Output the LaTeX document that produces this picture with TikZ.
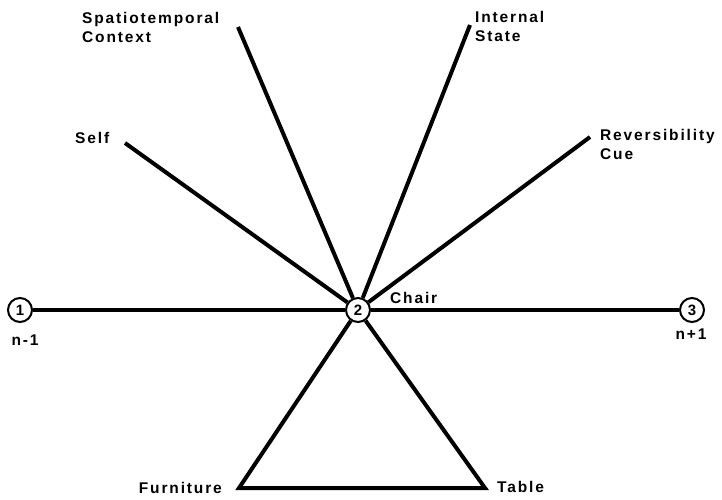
\documentclass[tikz,border=0pt]{standalone}
\usepackage{fontspec}
\setmainfont{Liberation Sans}[LetterSpace=12]
\usepackage{tikz}
\usetikzlibrary{arrows, arrows.meta}
\tikzset{vertex/.style = {shape = circle, draw, line width = 2pt, minimum size = 24pt, inner sep = 0pt, font = \fontsize{15}{15}\selectfont\bfseries}}
\tikzset{edge/.style = {-, line width = 4pt}}
\tikzset{tag/.style = {inner sep = 0pt, align = left, font = \fontsize{15.5}{19}\selectfont\bfseries}}

\begin{document}
\begin{tikzpicture}[x = 1pt, y = -1pt]
				\useasboundingbox (0, 0) rectangle (722, 499);

				\node[vertex] (a) at (20, 310) {1};
				\node[vertex] (b) at (358, 310) {2};
				\node[vertex] (c) at (692, 310) {3};

				\coordinate (self) at (125, 143);
				\coordinate (spat) at (238, 27);
				\coordinate (inst) at (470, 25);
				\coordinate (rcue) at (590, 137);
				\coordinate (furn) at (239, 488);
				\coordinate (tabl) at (485, 488);

				\draw[edge] (a) to (b);
				\draw[edge] (b) to (c);
				\draw[edge] (b) to (self);
				\draw[edge] (b) to (spat);
				\draw[edge] (b) to (inst);
				\draw[edge] (b) to (rcue);
				\draw[edge, line join = miter] (b) -- (furn) -- (tabl) -- (b);

				\node[tag, anchor = west] (lself) at (75, 138) {Self};
				\node[tag, anchor = north west] (lspat) at (82, 12) {Spatiotemporal\\Context};
				\node[tag, anchor = north west] (linst) at (475, 11) {Internal\\State};
				\node[tag, anchor = north west] (lrcue) at (600, 129) {Reversibility\\Cue};
				\node[tag, anchor = west] (lchair) at (390, 298) {Chair};
				\node[tag, anchor = east] (lfurn) at (222, 488) {Furniture};
				\node[tag, anchor = west] (ltabl) at (497, 487) {Table};
				\node[tag] (lprev) at (25, 340) {n-1};
				\node[tag] (lnext) at (691, 334) {n+1};
			\end{tikzpicture}
\end{document}
